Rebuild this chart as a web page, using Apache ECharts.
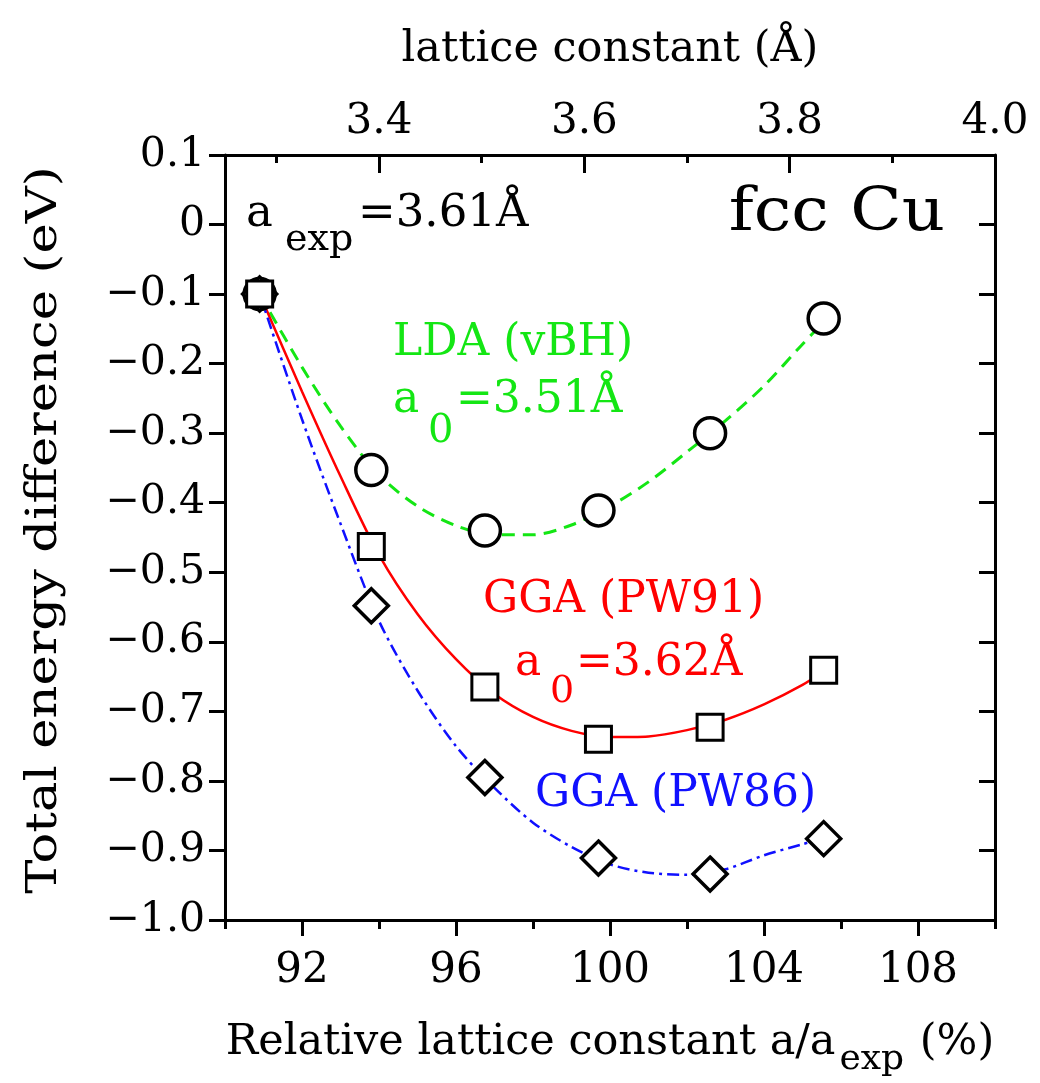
<!DOCTYPE html>
<html>
<head>
<meta charset="utf-8">
<title>fcc Cu total energy</title>
<script src="https://cdn.jsdelivr.net/npm/echarts@6/dist/echarts.min.js"></script>
<style>
  html, body { margin: 0; padding: 0; background: #fff; }
  #main { width: 1040px; height: 1083px; }
</style>
</head>
<body>
<div id="main"></div>
<script>
// computed points (relative lattice constant in %, energy in eV)
var pointX = [90.9, 93.8, 96.75, 99.7, 102.6, 105.55];
var ldaE  = [-0.100, -0.353, -0.440, -0.411, -0.300, -0.135];
var pw91E = [-0.100, -0.463, -0.665, -0.740, -0.723, -0.641];
var pw86E = [-0.100, -0.548, -0.795, -0.911, -0.934, -0.883];

// fitted curves
var fitX    = [90.9, 92, 93, 94, 95, 96, 97, 98, 99, 100, 101, 102, 103, 104, 105, 105.55];
var ldaFit  = [-0.100, -0.205, -0.290, -0.360, -0.405, -0.433, -0.446, -0.446, -0.432, -0.405, -0.370, -0.327, -0.282, -0.232, -0.172, -0.140];
var pw91Fit = [-0.100, -0.240, -0.362, -0.475, -0.560, -0.625, -0.675, -0.708, -0.728, -0.737, -0.736, -0.727, -0.712, -0.690, -0.662, -0.642];
var pw86Fit = [-0.100, -0.280, -0.430, -0.570, -0.670, -0.750, -0.810, -0.860, -0.895, -0.920, -0.932, -0.935, -0.927, -0.907, -0.891, -0.882];

// tick values
var pctLabels = [92, 96, 100, 104, 108];
var pctMinor = [90, 94, 98, 102, 106, 110];
var latLabels = [3.4, 3.6, 3.8, 4.0];
var latMajor = [3.4, 3.6, 3.8];
var latMinor = [3.3, 3.5, 3.7, 3.9];

var FONT = '"DejaVu Serif", "Liberation Serif", serif';
var GREEN = '#14e614';
var RED = '#ff0000';
var BLUE = '#1010ff';

function pairs (xs, ys) {
    var res = [];
    for (var i = 0; i < xs.length; i++) {
        res.push([xs[i], ys[i]]);
    }
    return res;
}

function energyLabel (v) {
    if (Math.abs(v) < 1e-9) return '0';
    return (v < 0 ? '\u2212' : '') + Math.abs(v).toFixed(1);
}

var chart = echarts.init(document.getElementById('main'));

var axisLine = { show: true, onZero: false, lineStyle: { color: '#000', width: 3 } };
var noLine = { show: false, onZero: false };

var option = {
    animation: false,
    backgroundColor: '#fff',
    grid: { left: 225, top: 155, width: 770, height: 772 },
    xAxis: [
        {
            type: 'value', position: 'bottom', min: 90, max: 110,
            axisLine: axisLine,
            axisTick: { customValues: pctLabels, length: 16, lineStyle: { color: '#000', width: 3 } },
            axisLabel: { customValues: pctLabels, margin: 30, fontSize: 42, fontFamily: FONT, color: '#000' },
            splitLine: { show: false },
            name: 'Relative lattice constant a/a{sub|exp} (%)',
            nameLocation: 'middle',
            nameGap: 88,
            nameTextStyle: {
                fontSize: 43, fontFamily: FONT, color: '#000',
                rich: {
                    sub: { fontSize: 36, fontFamily: FONT, color: '#000', padding: [34, 2, 0, 4], verticalAlign: 'bottom' }
                }
            }
        },
        {
            type: 'value', position: 'bottom', min: 90, max: 110,
            axisLine: noLine,
            axisTick: { customValues: pctMinor, length: 9, lineStyle: { color: '#000', width: 3 } },
            axisLabel: { show: false },
            splitLine: { show: false }
        },
        {
            type: 'value', position: 'top', min: 3.25, max: 4.0,
            axisLine: axisLine,
            axisTick: { customValues: latMajor, inside: true, length: 18, lineStyle: { color: '#000', width: 3 } },
            axisLabel: {
                customValues: latLabels, margin: 12, fontSize: 42, fontFamily: FONT, color: '#000',
                formatter: function (v) { return v.toFixed(1); }
            },
            splitLine: { show: false },
            name: 'lattice constant (\u00c5)',
            nameLocation: 'middle',
            nameGap: 84,
            nameTextStyle: { fontSize: 43, fontFamily: FONT, color: '#000' }
        },
        {
            type: 'value', position: 'top', min: 3.25, max: 4.0,
            axisLine: noLine,
            axisTick: { customValues: latMinor, inside: true, length: 8, lineStyle: { color: '#000', width: 3 } },
            axisLabel: { show: false },
            splitLine: { show: false }
        }
    ],
    yAxis: [
        {
            type: 'value', position: 'left', min: -1.0, max: 0.1, interval: 0.1,
            axisLine: axisLine,
            axisTick: { length: 16, lineStyle: { color: '#000', width: 3 } },
            axisLabel: { margin: 20, fontSize: 41, fontFamily: FONT, color: '#000', formatter: energyLabel },
            splitLine: { show: false }
        },
        {
            type: 'value', position: 'right', min: -1.0, max: 0.1, interval: 0.1,
            axisLine: axisLine,
            axisTick: { inside: true, length: 16, lineStyle: { color: '#000', width: 3 } },
            axisLabel: { show: false },
            splitLine: { show: false }
        }
    ],
    graphic: [
        {
            type: 'text', x: 45, y: 530, rotation: Math.PI / 2, scaleX: 1.22,
            style: { text: 'Total energy difference (eV)', font: '42px ' + FONT, fill: '#000', align: 'center', verticalAlign: 'middle' }
        },
        // a_exp = 3.61 A
        { type: 'text', x: 246, y: 214, style: { text: 'a', font: '45px ' + FONT, fill: '#000', verticalAlign: 'middle' } },
        { type: 'text', x: 285, y: 240, style: { text: 'exp', font: '38px ' + FONT, fill: '#000', verticalAlign: 'middle' } },
        { type: 'text', x: 358, y: 214, style: { text: '=3.61\u00c5', font: '45px ' + FONT, fill: '#000', verticalAlign: 'middle' } },
        // fcc Cu
        { type: 'text', x: 945, y: 214, scaleX: 1.12, style: { text: 'fcc Cu', font: '60px ' + FONT, fill: '#000', align: 'right', verticalAlign: 'middle' } },
        // LDA
        { type: 'text', x: 393, y: 344, style: { text: 'LDA (vBH)', font: '44px ' + FONT, fill: GREEN, verticalAlign: 'middle' } },
        { type: 'text', x: 393, y: 401, style: { text: 'a', font: '44px ' + FONT, fill: GREEN, verticalAlign: 'middle' } },
        { type: 'text', x: 428, y: 432, style: { text: '0', font: '40px ' + FONT, fill: GREEN, verticalAlign: 'middle' } },
        { type: 'text', x: 456, y: 401, style: { text: '=3.51\u00c5', font: '44px ' + FONT, fill: GREEN, verticalAlign: 'middle' } },
        // GGA PW91
        { type: 'text', x: 483, y: 601, style: { text: 'GGA (PW91)', font: '44px ' + FONT, fill: RED, verticalAlign: 'middle' } },
        { type: 'text', x: 515, y: 664, style: { text: 'a', font: '44px ' + FONT, fill: RED, verticalAlign: 'middle' } },
        { type: 'text', x: 550, y: 692, style: { text: '0', font: '38px ' + FONT, fill: RED, verticalAlign: 'middle' } },
        { type: 'text', x: 576, y: 664, style: { text: '=3.62\u00c5', font: '44px ' + FONT, fill: RED, verticalAlign: 'middle' } },
        // GGA PW86
        { type: 'text', x: 535, y: 795, style: { text: 'GGA (PW86)', font: '44px ' + FONT, fill: BLUE, verticalAlign: 'middle' } }
    ],
    series: [
        {
            name: 'LDA fit', type: 'line', smooth: 0.3, showSymbol: false, z: 2,
            lineStyle: { color: GREEN, width: 3, type: [13, 8] },
            data: pairs(fitX, ldaFit)
        },
        {
            name: 'PW91 fit', type: 'line', smooth: 0.3, showSymbol: false, z: 2,
            lineStyle: { color: RED, width: 2.5, type: 'solid' },
            data: pairs(fitX, pw91Fit)
        },
        {
            name: 'PW86 fit', type: 'line', smooth: 0.3, showSymbol: false, z: 2,
            lineStyle: { color: BLUE, width: 2.5, type: [12, 5, 3, 5] },
            data: pairs(fitX, pw86Fit)
        },
        {
            name: 'LDA', type: 'scatter', symbol: 'circle', symbolSize: 31, z: 3,
            itemStyle: { color: '#fff', borderColor: '#000', borderWidth: 3.5, opacity: 1 },
            data: pairs(pointX, ldaE)
        },
        {
            name: 'PW86', type: 'scatter', symbol: 'diamond', symbolSize: 34, z: 4,
            itemStyle: { color: '#fff', borderColor: '#000', borderWidth: 3.5, opacity: 1 },
            data: pairs(pointX, pw86E)
        },
        {
            name: 'PW91', type: 'scatter', symbol: 'rect', symbolSize: 26, z: 5,
            itemStyle: { color: '#fff', borderColor: '#000', borderWidth: 3, opacity: 1 },
            data: pairs(pointX, pw91E)
        }
    ]
};

chart.setOption(option);
</script>
</body>
</html>
